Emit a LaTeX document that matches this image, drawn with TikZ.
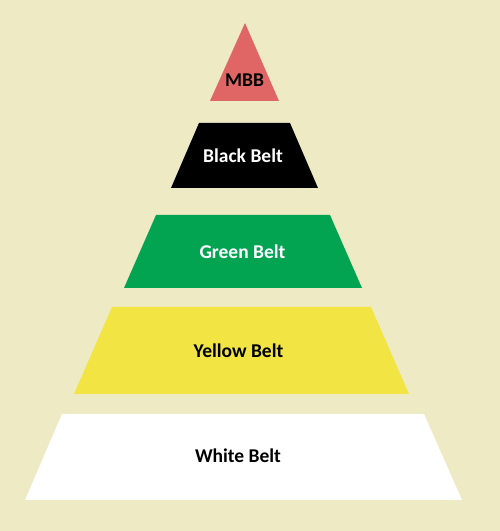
\documentclass[tikz,border=0pt]{standalone}
\usepackage{fontspec}
\setmainfont{Carlito}
\usetikzlibrary{positioning}

\definecolor{bgcream}{RGB}{238,234,196}
\definecolor{mbbred}{RGB}{224,102,102}
\definecolor{beltgreen}{RGB}{2,164,82}
\definecolor{beltyellow}{RGB}{242,228,66}

\tikzset{
  beltlabel/.style={anchor=base, font=\fontsize{19.5}{22}\selectfont\bfseries, inner sep=0pt},
}

\begin{document}
\begin{tikzpicture}[x=1pt, y=1pt]

  \fill[bgcream] (0,0) rectangle (500,531);
  \useasboundingbox (0,0) rectangle (500,531);

  % levels, top to bottom
  \fill[mbbred] (245,508) -- (279,430) -- (210,430) -- cycle;
  \fill[black] (199,408) -- (290,408) -- (318,343) -- (171,343) -- cycle;
  \fill[beltgreen] (156,316) -- (330,316) -- (362,243) -- (124,243) -- cycle;
  \fill[beltyellow] (112,224) -- (371,224) -- (409,137) -- (74,137) -- cycle;
  \fill[white] (62,117) -- (424,117) -- (462,31) -- (25,31) -- cycle;

  \node (mbb) [beltlabel] at (244.5,444) {MBB};
  \node (black) [beltlabel, text=white] at (243,368) {Black Belt};
  \node (green) [beltlabel, text=white] at (242.5,272) {Green Belt};
  \node (yellow) [beltlabel] at (238.5,173) {Yellow Belt};
  \node (white) [beltlabel] at (238,68) {White Belt};

\end{tikzpicture}
\end{document}
